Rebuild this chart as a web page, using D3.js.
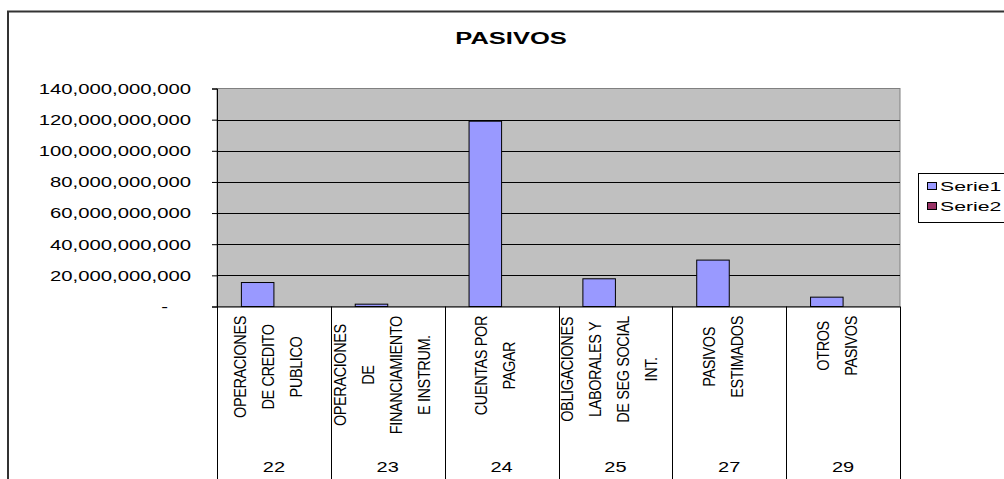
<!DOCTYPE html>
<html>
<head>
<meta charset="utf-8">
<script src="https://cdn.jsdelivr.net/npm/d3@7"></script>
<style>
  html, body { margin: 0; padding: 0; background: #fff; }
  svg { display: block; font-family: "Liberation Sans", Arial, sans-serif; }
</style>
</head>
<body>
<svg id="chart" width="1004" height="479"></svg>
<script>
// ---- data ----
const title = "PASIVOS";
const categories = ["22", "23", "24", "25", "27", "29"];
const categoryNames = [
  ["OPERACIONES", "DE CREDITO", "PUBLICO"],
  ["OPERACIONES", "DE", "FINANCIAMIENTO", "E INSTRUM."],
  ["CUENTAS POR", "PAGAR"],
  ["OBLIGACIONES", "LABORALES Y", "DE SEG SOCIAL", "INT."],
  ["PASIVOS", "ESTIMADOS"],
  ["OTROS", "PASIVOS"]
];
const seriesNames = ["Serie1", "Serie2"];
const serie1 = [15.4e9, 1.5e9, 119.0e9, 17.8e9, 29.8e9, 6.0e9];
const serie2 = [0, 0, 0, 0, 0, 0];
const yTicks = [0, 20e9, 40e9, 60e9, 80e9, 100e9, 120e9, 140e9];
const seriesColors = ["#9999FF", "#993366"];

// ---- layout ----
const svg = d3.select("#chart");
const plot = { left: 217, right: 900, top: 88.5, bottom: 306.5 };
const SX = 1.43; // horizontal stretch of the reference text

const x = d3.scaleBand().domain(categories).range([plot.left, plot.right]).paddingInner(0).paddingOuter(0);
const xs = d3.scaleBand().domain(seriesNames).range([0, x.bandwidth()]).paddingInner(0).paddingOuter(0.75);
const y = d3.scaleLinear().domain([0, 140e9]).range([plot.bottom, plot.top]);

// outer frame
svg.append("path")
  .attr("d", "M8,490 V11.5 H1020")
  .attr("fill", "none").attr("stroke", "#333").attr("stroke-width", 2);

// title
svg.append("text")
  .attr("transform", `translate(511,44) scale(1.5,1)`)
  .attr("text-anchor", "middle")
  .attr("font-size", 17).attr("font-weight", "bold")
  .text(title);

// plot background
svg.append("rect")
  .attr("x", plot.left).attr("y", plot.top)
  .attr("width", plot.right - plot.left).attr("height", plot.bottom - plot.top)
  .attr("fill", "#C0C0C0").attr("stroke", "#808080").attr("stroke-width", 1);

// gridlines
svg.append("g").selectAll("line")
  .data(yTicks.filter(d => d > 0 && d < 140e9))
  .join("line")
  .attr("x1", plot.left).attr("x2", plot.right)
  .attr("y1", d => Math.round(y(d)) + 0.5).attr("y2", d => Math.round(y(d)) + 0.5)
  .attr("stroke", "#000").attr("stroke-width", 1);

// bars
const seriesData = [serie1, serie2];
seriesData.forEach((vals, si) => {
  svg.append("g").selectAll("rect")
    .data(vals.map((v, i) => ({ cat: categories[i], v })))
    .join("rect")
    .filter(d => d.v > 0)
    .attr("x", d => x(d.cat) + xs(seriesNames[si]))
    .attr("y", d => y(d.v))
    .attr("width", xs.bandwidth())
    .attr("height", d => y(0) - y(d.v))
    .attr("fill", seriesColors[si])
    .attr("stroke", "#000").attr("stroke-width", 1);
});

// y axis
const yAxis = svg.append("g")
  .attr("transform", `translate(${plot.left},0)`)
  .call(d3.axisLeft(y).tickValues(yTicks).tickSize(5).tickPadding(0)
    .tickFormat(d => d === 0 ? "-" : d3.format(",")(d)));
yAxis.select(".domain").attr("stroke", "#000");
yAxis.selectAll(".tick line").attr("stroke", "#000");
yAxis.selectAll(".tick text")
  .attr("x", null).attr("dy", null)
  .attr("dominant-baseline", "central")
  .attr("fill", "#000")
  .attr("font-size", 14)
  .attr("font-family", "Liberation Sans, Arial, sans-serif")
  .attr("transform", d => `translate(${d === 0 ? -49 : -26},0) scale(1.45,1)`);

// category separators
const bounds = categories.map(c => x(c)).concat([plot.right]);
svg.append("g").selectAll("line")
  .data(bounds)
  .join("line")
  .attr("x1", d => Math.round(d) + 0.5).attr("x2", d => Math.round(d) + 0.5)
  .attr("y1", plot.bottom).attr("y2", 485)
  .attr("stroke", "#000").attr("stroke-width", 1);
// baseline
svg.append("line")
  .attr("x1", plot.left).attr("x2", plot.right)
  .attr("y1", plot.bottom + 0.5).attr("y2", plot.bottom + 0.5)
  .attr("stroke", "#000");

// category numbers
svg.append("g").selectAll("text")
  .data(categories)
  .join("text")
  .attr("transform", d => `translate(${x(d) + x.bandwidth() / 2},472) scale(${SX},1)`)
  .attr("text-anchor", "middle")
  .attr("font-size", 14)
  .text(d => d);

// rotated category names: block top-aligned, lines centered within the block
const lineStep = 28;
const blockTop = 316;
categories.forEach((c, ci) => {
  const lines = categoryNames[ci];
  const cx = x(c) + x.bandwidth() / 2 - 6;
  const texts = svg.append("g").selectAll("text")
    .data(lines)
    .join("text")
    .attr("text-anchor", "middle")
    .attr("dominant-baseline", "central")
    .attr("font-size", 14.5)
    .attr("letter-spacing", -0.4)
    .text(d => d);
  let maxLen = 0;
  texts.each(function () { maxLen = Math.max(maxLen, this.getComputedTextLength()); });
  const cy = blockTop + maxLen / 2;
  texts.attr("transform", (d, i) =>
    `translate(${cx + (i - (lines.length - 1) / 2) * lineStep},${cy}) rotate(-90) scale(1,1.15)`);
});

// legend
const lg = svg.append("g");
lg.append("rect")
  .attr("x", 918.5).attr("y", 173.5).attr("width", 120).attr("height", 49)
  .attr("fill", "#fff").attr("stroke", "#000").attr("stroke-width", 1);
seriesNames.forEach((s, i) => {
  lg.append("rect")
    .attr("x", 927.5).attr("y", 182.5 + i * 20).attr("width", 9).attr("height", 7)
    .attr("fill", seriesColors[i]).attr("stroke", "#000").attr("stroke-width", 1);
  lg.append("text")
    .attr("transform", `translate(940,${190.5 + i * 20}) scale(1.7,1)`)
    .attr("font-size", 12.5)
    .text(s);
});
</script>
</body>
</html>
